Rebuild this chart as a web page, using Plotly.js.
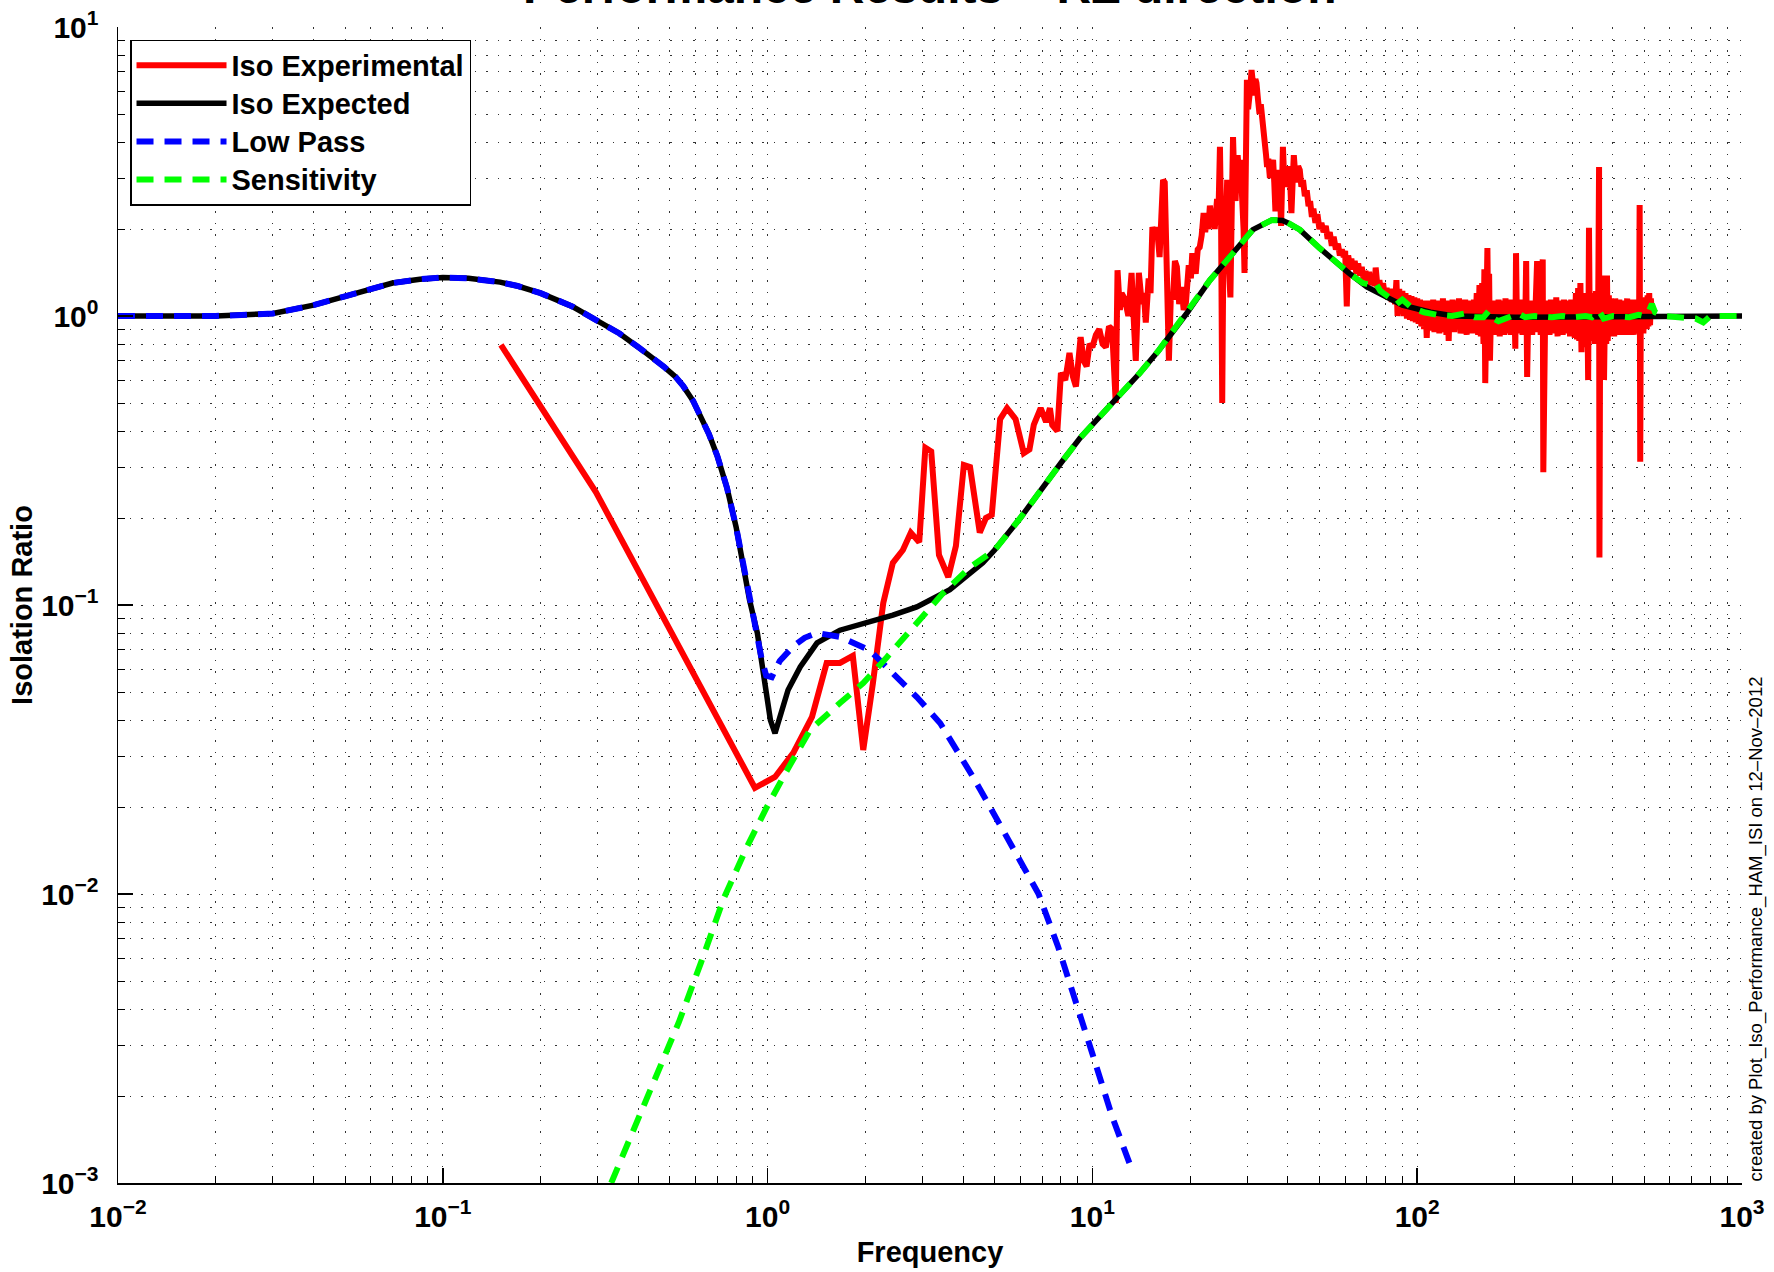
<!DOCTYPE html>
<html>
<head>
<meta charset="utf-8">
<script src="https://cdn.plot.ly/plotly-3.0.1.min.js"></script>
<style>html,body{margin:0;padding:0;background:#fff;}#chart{width:1774px;height:1272px;}</style>
</head>
<body>
<div id="chart"></div>
<script>
// ---------------- DATA ----------------
const titleText = 'Performance Results \u2013 RZ direction';
const xTitle = 'Frequency';
const yTitle = 'Isolation Ratio';
const seriesNames = ['Iso Experimental', 'Iso Expected', 'Low Pass', 'Sensitivity'];
const creditText = 'created by Plot_Iso_Performance_HAM_ISI on 12\u2013Nov\u20132012';

const xTickVals = [0.01, 0.1, 1, 10, 100, 1000];
const xTickText = ['10<sup>\u22122</sup>', '10<sup>\u22121</sup>', '10<sup>0</sup>', '10<sup>1</sup>', '10<sup>2</sup>', '10<sup>3</sup>'];
const yTickVals = [0.001, 0.01, 0.1, 1, 10];
const yTickText = ['10<sup>\u22123</sup>', '10<sup>\u22122</sup>', '10<sup>\u22121</sup>', '10<sup>0</sup>', '10<sup>1</sup>'];

// Iso Experimental: [frequency (Hz), ratio]
const isoExperimental = [
 [0.151,0.794],[0.296,0.246],[0.914,0.0233],[1.054,0.0254],[1.20,0.0308],[1.37,0.041],[1.52,0.063],[1.67,0.063],[1.83,0.0667],[1.97,0.0315],
 [2.11,0.0537],[2.27,0.1016],[2.43,0.14],[2.61,0.155],[2.76,0.178],[2.93,0.165],[3.06,0.35],[3.19,0.34],[3.37,0.149],[3.60,0.125],
 [3.80,0.16],[4.02,0.305],[4.2,0.30],[4.5,0.178],[4.7,0.2],[4.9,0.205],[5.2,0.44],[5.46,0.48],[5.8,0.44],[6.0,0.37],
 [6.15,0.335],[6.4,0.345],[6.6,0.42],[6.93,0.48],[7.2,0.43],[7.4,0.48],[7.52,0.42],[7.8,0.40],[8.0,0.635],[8.25,0.6],
 [8.5,0.745],[8.7,0.62],[8.9,0.57],[9.2,0.845],[9.4,0.7],[9.6,0.67],[9.8,0.8],[10.0,0.78],[10.25,0.86],[10.5,0.90],
 [10.75,0.8],[11.0,0.78],[11.25,0.92],[11.5,0.90],[11.8,0.50],[11.95,1.44],[12.15,1.05],[12.3,1.2],[12.6,1.14],[12.9,1.0],
 [13.2,1.41],[13.45,0.9],[13.6,0.70],[13.9,1.41],[14.2,1.1],[14.4,1.2],[14.6,0.95],[14.9,1.35],[15.1,1.2],[15.3,2.03],
 [15.6,1.9],[15.8,2.03],[16.1,1.6],[16.3,2.2],[16.5,2.96],[16.7,2.9],[16.9,1.41],[17.05,1.0],[17.2,0.70],[17.45,1.2],
 [17.7,1.14],[17.95,1.55],[18.2,1.48],[18.5,1.1],[18.8,1.26],[19.1,1.05],[19.4,1.11],[19.8,1.5],[20.1,1.35],[20.3,1.65],
 [20.8,1.4],[21.1,1.7],[21.4,1.73],[21.7,1.9],[22.0,2.27],[22.25,1.95],[22.5,2.2],[22.75,2.0],[23.0,2.41],[23.3,2.1],
 [23.5,2.3],[23.8,2.0],[24.2,2.54],[24.45,2.3],[24.7,3.85],[24.9,2.1],[25.1,0.50],[25.3,1.6],[25.5,2.5],[25.8,2.2],
 [26.0,2.96],[26.3,1.5],[26.6,1.16],[26.85,2.3],[27.1,4.16],[27.35,2.9],[27.6,2.5],[27.8,3.3],[28.0,3.6],[28.3,3.1],
 [28.6,3.47],[28.8,2.8],[29.0,2.5],[29.2,2.0],[29.4,1.41],[29.6,3.5],[29.9,6.56],[30.15,5.2],[30.4,5.5],[30.65,6.2],
 [30.9,7.1],[31.2,6.0],[31.5,5.8],[31.75,6.6],[32.0,6.4],[32.35,5.6],[32.7,5.0],[33.0,5.4],[33.4,4.5],[33.7,4.2],
 [34.0,4.0],[34.25,3.6],[34.5,3.28],[34.8,3.5],[35.2,3.0],[35.6,3.3],[36.0,3.47],[36.3,2.9],[36.6,2.3],[36.8,3.1],
 [37.0,3.0],[37.3,3.2],[37.6,2.96],[37.85,2.6],[38.1,2.05],[38.35,3.0],[38.6,3.85],[38.85,3.2],[39.1,3.3],[39.5,2.8],
 [39.9,3.2],[40.3,3.3],[40.65,2.9],[41.0,2.27],[41.35,2.9],[41.7,3.6],[42.1,3.1],[42.5,2.9],[43.0,3.3],[43.5,3.2],
 [44.0,2.8],[44.5,2.95],[45.1,2.6],[45.7,2.72],[46.3,2.4],[46.8,2.5],[47.4,2.2],[47.9,2.35],[48.6,2.1],[49.3,2.25],
 [50.0,2.0],[50.7,2.1],[51.5,1.95],[52.3,2.05],[53.0,1.85],[53.8,1.95],[54.6,1.75],[55.3,1.88],[56.2,1.7],[57.0,1.78],
 [57.8,1.62],[58.6,1.7],[59.4,1.6],[60.0,1.68],[60.7,1.08],[61.3,1.62],[62.0,1.5],[62.7,1.58],[63.4,1.45],[64.2,1.55],
 [65.0,1.4],[65.8,1.52],[66.6,1.38],[67.5,1.48],[68.4,1.33],[69.3,1.43],[70.2,1.32],[71.1,1.42],[72.0,1.28],[73.0,1.38],
 [74.0,1.27],[74.5,1.47],[75.5,1.25],[76.5,1.33],[77.5,1.2],[78.5,1.3],[79.5,1.18],[80.5,1.25],[81.5,1.14],[82.5,1.24],
 [83.5,1.12],[84.5,1.2],[85.5,1.1],[86.3,1.33],[87.0,1.0],[88,1.24],[89,1.02],[90,1.22],[91,1.0],[92,1.2],
 [93,0.98],[94,1.18],[95,0.97],[96,1.17],[97,0.96],[98,1.16],[99,0.95],[100,1.15],[101,0.94],[102,1.14],
 [103,0.92],[104,1.13],[105,0.9],[106,1.12],[107,0.84],[108,1.13],[109,0.9],[110,1.12],[111,0.89],[112,1.14],
 [113,0.88],[114,1.12],[115,0.9],[116,1.13],[117,0.87],[118,1.12],[119,0.9],[120,1.15],[121,0.88],[122,1.12],
 [123,0.86],[124,1.13],[125,0.82],[126,1.12],[127,0.89],[128.5,1.14],[130,0.88],[131.5,1.13],[133,0.9],[134.5,1.15],
 [136,0.87],[137.5,1.12],[139,0.89],[140.5,1.14],[142,0.86],[143.5,1.12],[145,0.9],[146.5,1.13],[148,0.87],[149.5,1.14],
 [151,0.88],[152.5,1.2],[154,0.86],[155.5,1.28],[157,0.85],[158.5,1.3],[160,0.8],[161,1.45],[162,0.586],[163,1.15],
 [164.5,1.72],[165.5,0.9],[166.5,1.4],[167.5,0.7],[169,1.12],[170.5,0.88],[172,1.13],[173.5,0.86],[175,1.12],[176.5,0.87],
 [178,1.14],[179.5,0.85],[181,1.13],[182.5,0.88],[184,1.12],[185.5,0.86],[187,1.15],[188.5,0.88],[190,1.13],[191.5,0.87],
 [193,1.14],[194.5,0.86],[196,1.12],[197.5,0.88],[199,1.13],[200.5,0.77],[201.5,1.65],[203,0.88],[205,1.14],[207,0.87],
 [209,1.12],[211,0.86],[213,1.14],[215,0.9],[216.5,1.55],[218,0.615],[220,1.12],[222,0.88],[224,1.13],[226,0.86],
 [228,1.12],[230,0.88],[232,1.15],[234,1.55],[236,0.9],[238,1.12],[240,0.86],[242,1.2],[243.5,1.57],[244.5,0.288],
 [246,0.9],[248,1.13],[250.5,0.87],[253,1.12],[255.5,0.86],[258,1.14],[260.5,0.88],[263,1.12],[265.5,0.87],[268,1.16],
 [270.5,0.85],[273,1.13],[275.5,0.88],[278,1.12],[280.5,0.86],[283,1.14],[285.5,0.87],[288,1.12],[290.5,0.88],[293,1.13],
 [295.5,0.85],[298,1.14],[300.5,0.86],[303,1.12],[305.5,0.84],[308,1.2],[310.5,0.83],[313,1.25],[315.5,0.82],[318,1.3],
 [320.5,0.75],[323,1.15],[325.5,0.8],[328,1.2],[331,0.78],[334,1.15],[336,0.6],[338,2.02],[340,0.85],[343,1.18],
 [346,0.82],[349,1.2],[352,0.8],[355,1.22],[358,0.83],[361,1.2],[363,3.28],[364,0.146],[366,1.15],[369,0.82],
 [372,1.2],[375,1.38],[376,0.6],[379,1.15],[382,0.8],[384,1.38],[386,0.82],[389,1.18],[392,0.85],[395,1.15],
 [398,0.86],[401,1.13],[404,0.85],[407,1.15],[410,0.87],[413,1.12],[416,0.86],[419,1.14],[422,0.88],[425,1.12],
 [428,0.87],[431,1.13],[434,0.86],[437,1.12],[440,0.88],[443,1.15],[446,0.87],[449,1.12],[452,0.86],[455,1.14],
 [458,0.88],[461,1.13],[464,0.86],[467,1.12],[470,0.88],[473,1.14],[476,0.87],[479,1.13],[482,0.9],[484,2.42],
 [486,0.313],[488,1.13],[491,0.88],[494,1.15],[497,0.87],[500,1.14],[503,0.9],[506,1.16],[509,0.9],[512,1.18],
 [515,0.92],[518,1.2],[521,0.93],[524,1.15],[527,1.05]
];

// Iso Expected
const isoExpected = [
 [0.01,1.0],[0.02,1.0],[0.03,1.02],[0.04,1.09],[0.05,1.17],[0.06,1.24],[0.07,1.30],[0.085,1.34],[0.1,1.36],[0.12,1.35],
 [0.15,1.31],[0.17,1.27],[0.2,1.2],[0.25,1.08],[0.3,0.96],[0.35,0.87],[0.4,0.78],[0.45,0.71],[0.48,0.667],[0.52,0.617],
 [0.55,0.572],[0.59,0.508],[0.63,0.441],[0.66,0.39],[0.7,0.328],[0.75,0.254],[0.8,0.186],[0.84,0.14],[0.88,0.104],[0.93,0.08],
 [0.96,0.0645],[0.99,0.05],[1.02,0.04],[1.054,0.036],[1.09,0.041],[1.156,0.0508],[1.26,0.061],[1.42,0.0739],[1.67,0.0818],[2.02,0.0867],
 [2.43,0.0923],[2.88,0.0985],[3.64,0.113],[4.6,0.14],[5,0.155],[6,0.20],[7,0.255],[8,0.31],[9.16,0.378],[10,0.42],
 [12,0.53],[14,0.635],[16,0.76],[19.5,1.02],[23,1.33],[27.1,1.65],[31.2,1.99],[35.7,2.15],[38.5,2.14],[40,2.1],
 [43.5,1.99],[50,1.72],[55,1.56],[62,1.40],[70,1.26],[80,1.16],[90,1.09],[110,1.03],[130,1.0],[200,0.99],
 [300,0.99],[500,0.995],[1000,1.0]
];

// Low Pass
const lowPassFilter = [
 [0.01,1.0],[0.02,1.0],[0.03,1.02],[0.04,1.09],[0.05,1.17],[0.06,1.24],[0.07,1.30],[0.085,1.34],[0.1,1.36],[0.12,1.35],
 [0.15,1.31],[0.17,1.27],[0.2,1.2],[0.25,1.08],[0.3,0.96],[0.35,0.87],[0.4,0.78],[0.45,0.71],[0.48,0.667],[0.52,0.617],
 [0.55,0.572],[0.59,0.508],[0.63,0.441],[0.66,0.39],[0.7,0.328],[0.75,0.254],[0.8,0.186],[0.84,0.14],[0.88,0.104],[0.93,0.08],
 [0.96,0.0645],[0.99,0.057],[1.03,0.0563],[1.09,0.064],[1.2,0.072],[1.3,0.077],[1.42,0.080],[1.67,0.0775],[2.06,0.0698],[2.43,0.058],
 [2.88,0.048],[3.4,0.039],[3.83,0.0315],[4.29,0.0254],[4.84,0.020],[5.31,0.0167],[5.8,0.0140],[6.3,0.0118],[6.83,0.0100],[7.83,0.0066],
 [9,0.0041],[10,0.0028],[11.5,0.0017],[13.2,0.00112]
];

// Sensitivity
const sensitivity = [
 [0.33,0.001],[0.42,0.0019],[0.533,0.0036],[0.624,0.0058],[0.734,0.0097],[0.865,0.0146],[0.995,0.020],[1.15,0.0269],[1.35,0.0369],[1.67,0.0458],
 [1.97,0.0537],[2.33,0.066],[2.81,0.084],[3.47,0.110],[4.2,0.135],[5,0.155],[6,0.20],[7,0.255],[8,0.31],[9.16,0.378],
 [10,0.42],[12,0.53],[14,0.635],[16,0.76],[19.5,1.02],[23,1.33],[27.1,1.65],[31.2,1.99],[35.7,2.15],[38.5,2.14],
 [40,2.1],[43.5,1.99],[50,1.72],[55,1.56],[62,1.40],[68,1.30],[72,1.28],[74.5,1.30],[77,1.22],[82,1.16],
 [86.5,1.10],[90,1.14],[92,1.12],[96,1.07],[105,1.03],[115,1.01],[128,1.0],[140,1.02],[150,0.99],[160,0.99],
 [166,1.04],[172,0.98],[178,0.96],[190,0.99],[205,1.02],[215,0.99],[230,1.0],[260,0.99],[280,1.0],[300,0.99],
 [330,1.0],[345,0.99],[363,1.04],[375,0.98],[400,1.0],[450,0.99],[480,1.01],[500,1.0],[515,1.03],[528,1.1],
 [540,1.03],[570,1.0],[650,0.99],[720,0.98],[760,0.95],[800,1.0],[1000,1.0]
];

// ---------------- CHART ----------------
const FONT = 'Liberation Sans, Arial, Helvetica, sans-serif';
const col = (arr, i) => arr.map(p => p[i]);
const legendLabel = s => '<span style="font-size:29px">' + s + '</span>';

function minorVals(lo, hi) {
  const v = [];
  for (let e = lo; e < hi; e++) for (let k = 2; k <= 9; k++) v.push(k * Math.pow(10, e));
  return v;
}

const gridStyle = {showgrid: true, gridcolor: 'rgba(0,0,0,0.8)', gridwidth: 1, griddash: '1.5px,10px'};

const traces = [
  {x: col(isoExperimental,0), y: col(isoExperimental,1), name: legendLabel(seriesNames[0]), mode: 'lines',
   line: {color: '#ff0000', width: 6}},
  {x: col(isoExpected,0), y: col(isoExpected,1), name: legendLabel(seriesNames[1]), mode: 'lines',
   line: {color: '#000000', width: 5.5}},
  {x: col(lowPassFilter,0), y: col(lowPassFilter,1), name: legendLabel(seriesNames[2]), mode: 'lines',
   line: {color: '#0000ff', width: 6, dash: '17px,11px'}},
  {x: col(sensitivity,0), y: col(sensitivity,1), name: legendLabel(seriesNames[3]), mode: 'lines',
   line: {color: '#00ff00', width: 6, dash: '17px,11px'}}
];

const axisCommon = {
  type: 'log', showline: true, linecolor: '#000', linewidth: 1.5, mirror: false, zeroline: false,
  ticks: 'inside', ticklen: 15, tickwidth: 1.5, tickcolor: '#000', tickmode: 'array',
  tickfont: {family: FONT, size: 30, color: '#000', weight: 'bold'},
  showgrid: true, gridcolor: 'rgba(0,0,0,0.8)', gridwidth: 1, griddash: '1.5px,10px'
};

const layout = {
  width: 1774, height: 1272,
  paper_bgcolor: '#fff', plot_bgcolor: '#fff',
  margin: {l: 118, r: 32, t: 27, b: 89},
  showlegend: true,
  legend: {x: 0.0074, y: 0.989, xanchor: 'left', yanchor: 'top', bgcolor: '#fff',
           bordercolor: '#000', borderwidth: 1.5, itemwidth: 90,
           font: {family: FONT, size: 27, color: '#000', weight: 'bold'}},
  xaxis: Object.assign({}, axisCommon, {
    range: [-2, 3], tickvals: xTickVals, ticktext: xTickText, ticklabelstandoff: 6,
    minor: Object.assign({tickmode: 'array', tickvals: minorVals(-2, 3), ticks: 'inside', ticklen: 7, tickwidth: 1, tickcolor: '#000'}, gridStyle),
    title: {text: xTitle, font: {family: FONT, size: 29, color: '#000', weight: 'bold'}, standoff: 10}
  }),
  yaxis: Object.assign({}, axisCommon, {
    range: [-3, 1], tickvals: yTickVals, ticktext: yTickText, ticklabelstandoff: 12,
    minor: Object.assign({tickmode: 'array', tickvals: minorVals(-3, 1), ticks: 'inside', ticklen: 7, tickwidth: 1, tickcolor: '#000'}, gridStyle),
    title: {text: yTitle, font: {family: FONT, size: 29, color: '#000', weight: 'bold'}, standoff: 0}
  }),
  annotations: [
    {text: titleText, xref: 'paper', yref: 'paper', x: 0.5, y: 1.0104, xanchor: 'center', yanchor: 'bottom',
     showarrow: false, font: {family: FONT, size: 48, color: '#000', weight: 'bold'}},
    {text: creditText, xref: 'paper', yref: 'paper', x: 1.0086, y: 0, xanchor: 'center', yanchor: 'bottom',
     textangle: -90, showarrow: false, font: {family: FONT, size: 18.5, color: '#000'}}
  ]
};

Plotly.newPlot('chart', traces, layout, {displayModeBar: false, staticPlot: true});
</script>
</body>
</html>
